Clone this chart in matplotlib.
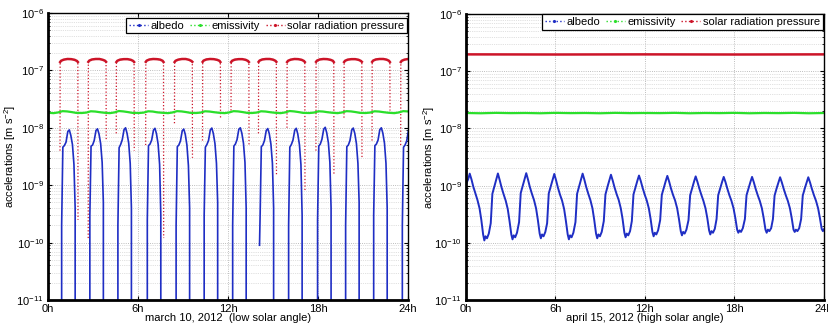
import numpy as np
import matplotlib.pyplot as plt
from matplotlib.lines import Line2D
from matplotlib.ticker import LogLocator, NullFormatter

plt.rcParams['font.family'] = ['Liberation Sans', 'DejaVu Sans']
plt.rcParams['mathtext.fontset'] = 'custom'
plt.rcParams['mathtext.rm'] = 'Liberation Sans'
plt.rcParams['mathtext.it'] = 'Liberation Sans:italic'
plt.rcParams['font.size'] = 8

hour_ticks = [0, 6, 12, 18, 24]
hour_labels = ['0h', '6h', '12h', '18h', '24h']
series_names = ['albedo', 'emissivity', 'solar radiation pressure']
series_colors = ['#1f2ec4', '#2bdf2b', '#cc1428']

# ---------------- march 10, 2012 (low solar angle) ----------------
# albedo: one hump per sunlit pass (hour where the hump starts)
mar_albedo_start = [0.87, 2.75, 4.62, 6.58, 8.50, 10.37, 12.27, 14.10, 16.00,
                    17.93, 19.80, 21.67, 23.58]
mar_albedo_phase = [0, 0.04, 0.12, 0.22, 0.33, 0.45, 0.55, 0.65, 0.76, 0.86, 0.94, 1.0]
mar_albedo = [
    [0, 2e-10, 4.6e-9, 4.9e-9, 5.6e-9, 8.6e-9, 9.2e-9, 7.4e-9, 5.1e-9, 2.3e-9, 4e-10, 0],
    [0, 3e-10, 4.8e-9, 5.0e-9, 6.0e-9, 9.0e-9, 9.6e-9, 7.8e-9, 5.3e-9, 2.5e-9, 5e-10, 0],
    [0, 2e-10, 4.5e-9, 5.1e-9, 6.2e-9, 9.3e-9, 1.0e-8, 8.0e-9, 5.4e-9, 2.4e-9, 4e-10, 0],
    [0, 2.5e-10, 4.9e-9, 5.2e-9, 6.1e-9, 9.1e-9, 9.8e-9, 7.9e-9, 5.2e-9, 2.3e-9, 3e-10, 0],
    [0, 2e-10, 4.7e-9, 5.0e-9, 5.9e-9, 8.9e-9, 9.5e-9, 7.7e-9, 5.0e-9, 2.2e-9, 4e-10, 0],
    [0, 3e-10, 4.6e-9, 5.1e-9, 6.0e-9, 9.2e-9, 9.9e-9, 8.0e-9, 5.3e-9, 2.4e-9, 5e-10, 0],
    [0, 2e-10, 4.8e-9, 5.2e-9, 6.2e-9, 9.4e-9, 1.0e-8, 8.1e-9, 5.4e-9, 2.5e-9, 4e-10, 0],
    [9e-11, 3e-10, 4.7e-9, 5.0e-9, 6.0e-9, 9.0e-9, 9.7e-9, 7.9e-9, 5.2e-9, 2.4e-9, 4e-10, 0],
    [0, 2e-10, 4.6e-9, 5.1e-9, 6.1e-9, 9.1e-9, 9.8e-9, 7.8e-9, 5.1e-9, 2.3e-9, 3e-10, 0],
    [0, 2.5e-10, 4.8e-9, 5.2e-9, 6.3e-9, 9.5e-9, 1.02e-8, 8.2e-9, 5.5e-9, 2.5e-9, 4e-10, 0],
    [0, 2e-10, 4.7e-9, 5.0e-9, 6.0e-9, 9.2e-9, 9.9e-9, 8.0e-9, 5.3e-9, 2.4e-9, 5e-10, 0],
    [0, 3e-10, 4.9e-9, 5.2e-9, 6.1e-9, 9.3e-9, 1.0e-8, 8.1e-9, 5.4e-9, 2.4e-9, 4e-10, 0],
    [0, 2e-10, 4.6e-9, 5.0e-9, 5.9e-9, 9.0e-9, 9.6e-9, 7.8e-9, 5.2e-9, 2.3e-9, 4e-10, 0],
]

# solar radiation pressure: sunlit arcs, eclipse in between
mar_srp_start = [0.80, 2.68, 4.55, 6.51, 8.43, 10.30, 12.20, 14.03, 15.93,
                 17.86, 19.73, 21.60, 23.51]
mar_srp_phase = [0, 0.01, 0.07, 0.25, 0.5, 0.75, 0.97, 1.13, 1.19, 1.20]
mar_srp = [
    [4e-9, 1.40e-7, 1.47e-7, 1.54e-7, 1.58e-7, 1.57e-7, 1.53e-7, 1.46e-7, 1.40e-7, 2.5e-10],
    [1.2e-10, 1.41e-7, 1.48e-7, 1.55e-7, 1.58e-7, 1.58e-7, 1.53e-7, 1.47e-7, 1.41e-7, 6e-9],
    [8e-9, 1.40e-7, 1.47e-7, 1.54e-7, 1.57e-7, 1.57e-7, 1.53e-7, 1.46e-7, 1.40e-7, 4e-9],
    [5e-9, 1.41e-7, 1.48e-7, 1.55e-7, 1.58e-7, 1.57e-7, 1.54e-7, 1.47e-7, 1.40e-7, 1.2e-10],
    [1.2e-8, 1.40e-7, 1.47e-7, 1.54e-7, 1.58e-7, 1.58e-7, 1.53e-7, 1.46e-7, 1.41e-7, 3e-9],
    [6e-9, 1.41e-7, 1.48e-7, 1.55e-7, 1.58e-7, 1.57e-7, 1.53e-7, 1.47e-7, 1.40e-7, 1.5e-8],
    [2e-8, 1.40e-7, 1.47e-7, 1.54e-7, 1.57e-7, 1.57e-7, 1.53e-7, 1.46e-7, 1.40e-7, 5e-9],
    [8e-9, 1.41e-7, 1.48e-7, 1.55e-7, 1.58e-7, 1.58e-7, 1.54e-7, 1.47e-7, 1.41e-7, 1.5e-9],
    [1e-8, 1.40e-7, 1.47e-7, 1.54e-7, 1.58e-7, 1.57e-7, 1.53e-7, 1.46e-7, 1.40e-7, 8e-10],
    [4e-9, 1.41e-7, 1.48e-7, 1.55e-7, 1.58e-7, 1.57e-7, 1.53e-7, 1.47e-7, 1.40e-7, 1.5e-9],
    [1.5e-8, 1.40e-7, 1.47e-7, 1.54e-7, 1.57e-7, 1.57e-7, 1.53e-7, 1.46e-7, 1.41e-7, 3e-9],
    [6e-9, 1.41e-7, 1.48e-7, 1.55e-7, 1.58e-7, 1.58e-7, 1.54e-7, 1.47e-7, 1.40e-7, 2e-8],
    [5e-9, 1.40e-7, 1.47e-7, 1.54e-7, 1.58e-7, 1.57e-7, 1.53e-7, 1.46e-7, 1.40e-7, 5e-9],
]

# emissivity: small wave once per orbit
mar_emis_start = [-1.02] + mar_albedo_start
mar_emis_phase = [-0.5, -0.2, 0.1, 0.4, 0.7, 1.0]
mar_emis = [
    [1.81e-8, 1.84e-8, 1.94e-8, 1.92e-8, 1.87e-8, 1.83e-8],
    [1.80e-8, 1.85e-8, 1.95e-8, 1.93e-8, 1.88e-8, 1.82e-8],
    [1.81e-8, 1.84e-8, 1.94e-8, 1.92e-8, 1.87e-8, 1.83e-8],
    [1.80e-8, 1.85e-8, 1.96e-8, 1.93e-8, 1.88e-8, 1.82e-8],
    [1.81e-8, 1.84e-8, 1.94e-8, 1.92e-8, 1.86e-8, 1.83e-8],
    [1.80e-8, 1.85e-8, 1.95e-8, 1.93e-8, 1.88e-8, 1.82e-8],
    [1.81e-8, 1.84e-8, 1.94e-8, 1.92e-8, 1.87e-8, 1.83e-8],
    [1.80e-8, 1.85e-8, 1.95e-8, 1.93e-8, 1.88e-8, 1.82e-8],
    [1.81e-8, 1.84e-8, 1.94e-8, 1.92e-8, 1.87e-8, 1.83e-8],
    [1.80e-8, 1.85e-8, 1.96e-8, 1.93e-8, 1.88e-8, 1.82e-8],
    [1.81e-8, 1.84e-8, 1.94e-8, 1.92e-8, 1.87e-8, 1.83e-8],
    [1.80e-8, 1.85e-8, 1.95e-8, 1.93e-8, 1.88e-8, 1.82e-8],
    [1.81e-8, 1.84e-8, 1.94e-8, 1.92e-8, 1.87e-8, 1.83e-8],
    [1.80e-8, 1.85e-8, 1.95e-8, 1.93e-8, 1.88e-8, 1.82e-8],
]

# ---------------- april 15, 2012 (high solar angle) ----------------
apr_albedo_peak = [0.25, 2.14, 4.04, 5.92, 7.82, 9.72, 11.60, 13.50, 15.40,
                   17.28, 19.18, 21.06, 22.95]
apr_albedo_phase = [-0.48, -0.37, -0.22, -0.10, 0, 0.12, 0.24, 0.38, 0.52, 0.66,
                    0.78, 0.90, 0.98, 1.06, 1.16, 1.28]
apr_albedo = [
    [9e-10, 1.0e-9, 1.1e-9, 1.3e-9, 1.62e-9, 1.28e-9, 9.6e-10, 7.3e-10, 5.6e-10, 4.0e-10, 2.5e-10, 1.4e-10, 1.1e-10, 1.3e-10, 1.2e-10, 1.45e-10],
    [2.2e-10, 7.2e-10, 1.0e-9, 1.3e-9, 1.63e-9, 1.25e-9, 9.4e-10, 7.1e-10, 5.5e-10, 3.9e-10, 2.4e-10, 1.4e-10, 1.15e-10, 1.35e-10, 1.25e-10, 1.5e-10],
    [2.3e-10, 7.4e-10, 1.02e-9, 1.32e-9, 1.65e-9, 1.27e-9, 9.5e-10, 7.2e-10, 5.6e-10, 4.0e-10, 2.5e-10, 1.45e-10, 1.2e-10, 1.4e-10, 1.3e-10, 1.55e-10],
    [2.2e-10, 7.3e-10, 1.0e-9, 1.3e-9, 1.6e-9, 1.24e-9, 9.3e-10, 7.0e-10, 5.5e-10, 3.9e-10, 2.4e-10, 1.4e-10, 1.15e-10, 1.35e-10, 1.25e-10, 1.5e-10],
    [2.3e-10, 7.2e-10, 1.0e-9, 1.3e-9, 1.62e-9, 1.26e-9, 9.5e-10, 7.2e-10, 5.6e-10, 4.0e-10, 2.5e-10, 1.45e-10, 1.2e-10, 1.4e-10, 1.3e-10, 1.55e-10],
    [2.4e-10, 7.0e-10, 9.8e-10, 1.26e-9, 1.55e-9, 1.22e-9, 9.3e-10, 7.1e-10, 5.6e-10, 4.0e-10, 2.6e-10, 1.5e-10, 1.25e-10, 1.45e-10, 1.35e-10, 1.6e-10],
    [2.4e-10, 7.0e-10, 9.6e-10, 1.24e-9, 1.5e-9, 1.2e-9, 9.2e-10, 7.0e-10, 5.5e-10, 4.0e-10, 2.6e-10, 1.55e-10, 1.3e-10, 1.5e-10, 1.4e-10, 1.65e-10],
    [2.5e-10, 6.9e-10, 9.5e-10, 1.22e-9, 1.48e-9, 1.18e-9, 9.0e-10, 6.9e-10, 5.5e-10, 4.0e-10, 2.6e-10, 1.6e-10, 1.35e-10, 1.55e-10, 1.45e-10, 1.7e-10],
    [2.5e-10, 6.8e-10, 9.4e-10, 1.2e-9, 1.45e-9, 1.16e-9, 9.0e-10, 6.9e-10, 5.4e-10, 4.0e-10, 2.7e-10, 1.65e-10, 1.4e-10, 1.6e-10, 1.5e-10, 1.75e-10],
    [2.6e-10, 6.8e-10, 9.3e-10, 1.18e-9, 1.42e-9, 1.15e-9, 8.9e-10, 6.8e-10, 5.4e-10, 4.0e-10, 2.7e-10, 1.7e-10, 1.5e-10, 1.65e-10, 1.55e-10, 1.8e-10],
    [2.6e-10, 6.8e-10, 9.3e-10, 1.18e-9, 1.42e-9, 1.14e-9, 8.8e-10, 6.8e-10, 5.4e-10, 4.0e-10, 2.7e-10, 1.7e-10, 1.5e-10, 1.7e-10, 1.6e-10, 1.8e-10],
    [2.6e-10, 6.7e-10, 9.2e-10, 1.16e-9, 1.4e-9, 1.13e-9, 8.8e-10, 6.8e-10, 5.4e-10, 4.0e-10, 2.7e-10, 1.7e-10, 1.55e-10, 1.7e-10, 1.6e-10, 1.8e-10],
    [2.6e-10, 6.7e-10, 9.2e-10, 1.16e-9, 1.4e-9, 1.13e-9, 8.8e-10, 6.8e-10, 5.4e-10, 4.0e-10, 2.7e-10, 1.75e-10, 1.6e-10, 1.75e-10, 1.65e-10, 1.8e-10],
]

apr_emis_hours = list(range(25))
apr_emis = [1.86e-8, 1.84e-8, 1.87e-8, 1.85e-8, 1.86e-8, 1.84e-8, 1.87e-8, 1.85e-8,
            1.86e-8, 1.84e-8, 1.87e-8, 1.85e-8, 1.86e-8, 1.85e-8, 1.87e-8, 1.84e-8,
            1.86e-8, 1.85e-8, 1.87e-8, 1.84e-8, 1.86e-8, 1.85e-8, 1.87e-8, 1.84e-8, 1.86e-8]

apr_srp_hours = [0, 6, 12, 18, 24]
apr_srp = [1.97e-7, 1.96e-7, 1.97e-7, 1.96e-7, 1.97e-7]


def rows_to_series(starts, phase, rows, gap=True):
    t, v = [], []
    for s, row in zip(starts, rows):
        t += [s + p for p in phase]
        v += list(row)
        if gap:
            t.append(s + phase[-1] + 0.01)
            v.append(np.nan)
    return np.array(t), np.array(v, dtype=float)


def style_axes(ax, xlabel):
    ax.set_yscale('log', nonpositive='clip')
    ax.set_xlim(0, 24)
    ax.set_ylim(1e-11, 1e-6)
    ax.set_xticks(hour_ticks)
    ax.set_xticklabels(hour_labels)
    ax.yaxis.set_major_locator(LogLocator(base=10, numticks=10))
    ax.yaxis.set_minor_locator(LogLocator(base=10, subs=np.arange(2, 10), numticks=20))
    ax.yaxis.set_minor_formatter(NullFormatter())
    ax.tick_params(which='both', direction='in', top=True, right=True, labelsize=8, pad=3)
    ax.tick_params(which='major', length=3)
    ax.tick_params(which='minor', length=1.5)
    ax.grid(True, which='major', axis='both', ls=':', lw=0.6, color='#a8a8a8')
    ax.grid(True, which='minor', axis='y', ls=':', lw=0.5, color='#c4c4c4')
    for side in ['top', 'right']:
        ax.spines[side].set_linewidth(1.0)
    for side in ['left', 'bottom']:
        ax.spines[side].set_linewidth(2.0)
    ax.set_xlabel(xlabel, fontsize=8, labelpad=-1)
    ax.set_ylabel('accelerations [m s$^{-2}$]', fontsize=8)
    ax.yaxis.set_label_coords(-0.082, 0.5)


def add_legend(ax, anchor):
    handles = [Line2D([], [], color=c, ls=':', marker='.', markersize=2.5, lw=1.0)
               for c in series_colors]
    leg = ax.legend(handles, series_names, ncol=3, loc='upper right',
                    bbox_to_anchor=anchor, borderaxespad=0, fontsize=8,
                    handlelength=1.7, handletextpad=0.25, columnspacing=0.5,
                    borderpad=0.25, fancybox=False, framealpha=1)
    leg.get_frame().set_edgecolor('black')
    leg.get_frame().set_linewidth(0.9)


fig = plt.figure(figsize=(8.29, 3.29), dpi=100)
ax1 = fig.add_axes([0.0579, 0.0881, 0.4343, 0.8724])
ax2 = fig.add_axes([0.5621, 0.0881, 0.4318, 0.8693])

# left panel
t_alb, v_alb = rows_to_series(mar_albedo_start, mar_albedo_phase, mar_albedo)
t_srp, v_srp = rows_to_series(mar_srp_start, mar_srp_phase, mar_srp)
t_em, v_em = rows_to_series(mar_emis_start, mar_emis_phase, mar_emis, gap=False)
sunlit = np.where(v_srp >= 1.2e-7, v_srp, np.nan)

ax1.plot(t_srp, v_srp, ':', color=series_colors[2], lw=0.9)
ax1.plot(t_srp, sunlit, '-', color=series_colors[2], lw=1.8)
ax1.plot(t_em, v_em, '-', color=series_colors[1], lw=1.6)
ax1.plot(t_alb, v_alb, '-', color=series_colors[0], lw=1.2)
style_axes(ax1, 'march 10, 2012  (low solar angle)')
add_legend(ax1, (0.998, 0.983))

# right panel
t_alb2, v_alb2 = rows_to_series(apr_albedo_peak, apr_albedo_phase, apr_albedo, gap=False)
ax2.plot(apr_srp_hours, apr_srp, '-', color=series_colors[2], lw=1.8)
ax2.plot(apr_emis_hours, apr_emis, '-', color=series_colors[1], lw=1.6)
ax2.plot(t_alb2, v_alb2, '-', color=series_colors[0], lw=1.4)
style_axes(ax2, 'april 15, 2012 (high solar angle)')
add_legend(ax2, (0.997, 1.0))

fig.savefig('out.png', dpi=100)
